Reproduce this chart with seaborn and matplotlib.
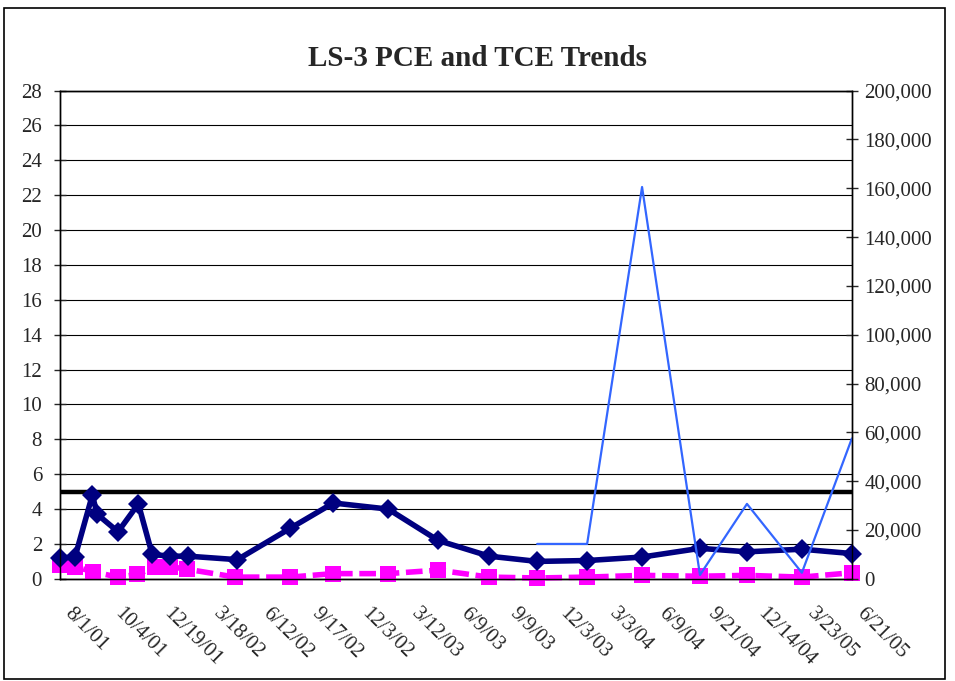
import matplotlib.pyplot as plt
import seaborn as sns
from matplotlib.ticker import FuncFormatter, MultipleLocator
from matplotlib.transforms import ScaledTranslation

# x positions are read on the category axis, in units of label steps (0 = 8/1/01, 16 = 6/21/05)
date_labels = ['8/1/01', '10/4/01', '12/19/01', '3/18/02', '6/12/02', '9/17/02', '12/3/02',
               '3/12/03', '6/9/03', '9/9/03', '12/3/03', '3/3/04', '6/9/04', '9/21/04',
               '12/14/04', '3/23/05', '6/21/05']

pce_pos = [0, 0.30, 0.65, 0.75, 1.17, 1.58, 1.86, 2.22, 2.59, 3.58, 4.65, 5.52, 6.63,
           7.64, 8.67, 9.64, 10.65, 11.76, 12.93, 13.88, 14.99, 16.0]
pce_vals = [1.2, 1.25, 4.8, 3.7, 2.7, 4.3, 1.4, 1.3, 1.3, 1.1, 2.9, 4.35, 4.0,
            2.2, 1.3, 1.0, 1.05, 1.25, 1.75, 1.55, 1.7, 1.45]

tce_pos = [0, 0.30, 0.67, 1.17, 1.56, 1.92, 2.22, 2.57, 3.54, 4.65, 5.52, 6.63,
           7.64, 8.67, 9.64, 10.65, 11.76, 12.93, 13.88, 14.99, 16.0]
tce_vals = [0.8, 0.7, 0.4, 0.1, 0.25, 0.7, 0.7, 0.55, 0.1, 0.1, 0.3, 0.3,
            0.5, 0.1, 0.05, 0.1, 0.2, 0.15, 0.2, 0.1, 0.35]

right_pos = [9.64, 10.65, 11.76, 12.93, 13.88, 14.99, 16.0]
right_vals = [14300, 14300, 160500, 1600, 30700, 2500, 57500]

mcl = 5

sns.set_style('white')
plt.rcParams['font.family'] = ['Liberation Serif', 'DejaVu Serif']

fig = plt.figure(figsize=(9.55, 6.81), dpi=100)
ax = fig.add_axes([0.063, 0.150, 0.829, 0.717])
ax2 = ax.twinx()

ax.yaxis.grid(True, color='black', lw=0.8)
ax.set_axisbelow(True)
ax.axhline(mcl, color='black', lw=3.2, zorder=3)

sns.lineplot(x=tce_pos, y=tce_vals, ax=ax, color='#ff00ff', lw=4, linestyle=(0, (3, 1.2)),
             marker='s', markersize=12, markeredgewidth=0, estimator=None, sort=False,
             clip_on=False, zorder=4)
sns.lineplot(x=pce_pos, y=pce_vals, ax=ax, color='#000080', lw=4,
             marker='D', markersize=10, markeredgewidth=0, estimator=None, sort=False,
             clip_on=False, zorder=5)
sns.lineplot(x=right_pos, y=right_vals, ax=ax2, color='#3366ff', lw=1.6,
             estimator=None, sort=False, clip_on=False)

ax.set_xlim(0, 16)
ax.set_ylim(0, 28)
ax.yaxis.set_major_locator(MultipleLocator(2))
ax2.set_ylim(0, 200000)
ax2.yaxis.set_major_locator(MultipleLocator(20000))
ax2.yaxis.set_major_formatter(FuncFormatter(lambda v, p: f'{int(v):,}'))

ax.set_xticks(range(len(date_labels)))
ax.set_xticklabels(date_labels, rotation=-45, ha='left', va='top', rotation_mode='anchor')
ax.tick_params(axis='x', length=0, labelsize=15, pad=14)
shift = ScaledTranslation(0.14, -0.06, fig.dpi_scale_trans)
for lbl in ax.get_xticklabels():
    lbl.set_transform(lbl.get_transform() + shift)
ax.tick_params(axis='y', direction='inout', length=8, width=1, labelsize=15, pad=9, left=True)
ax2.tick_params(axis='y', direction='inout', length=8, width=1, labelsize=15, pad=5, right=True)

for a in (ax, ax2):
    for s in a.spines.values():
        s.set_color('black')
        s.set_linewidth(1)

fig.text(0.5, 0.914, 'LS-3 PCE and TCE Trends', ha='center', va='center',
         fontsize=21, fontweight='bold')
fig.add_artist(plt.Rectangle((0.004, 0.003), 0.986, 0.985, transform=fig.transFigure,
                             fill=False, edgecolor='black', lw=1.2))

plt.savefig('out.png', dpi=100)
